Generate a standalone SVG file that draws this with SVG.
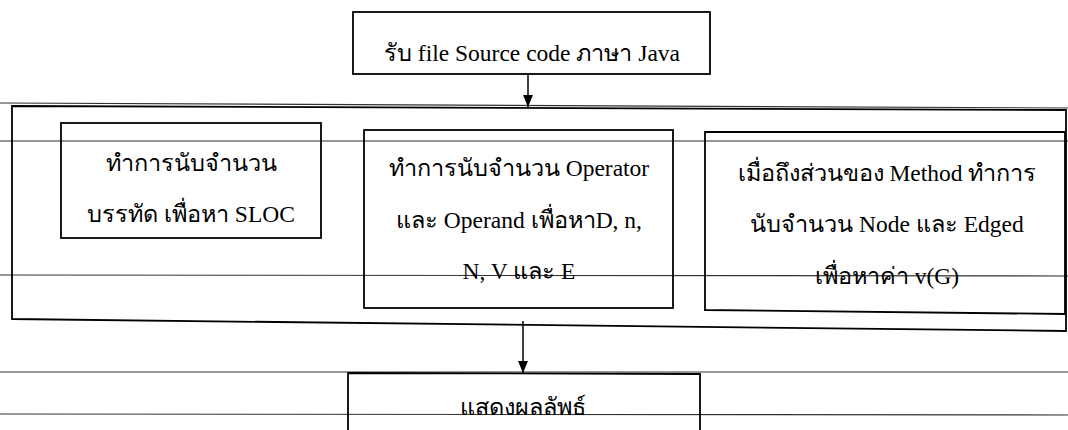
<svg xmlns="http://www.w3.org/2000/svg" width="1068" height="430" viewBox="0 0 1068 430">
<style>
.box{fill:none;stroke:#000;stroke-width:1.8}
.rule{stroke:#333;stroke-width:1.2}
.t{font-family:"Liberation Serif","DejaVu Serif","Noto Serif",serif;font-size:23.5px;fill:#000;text-anchor:middle}
.c{stroke:#000;stroke-width:1.5;fill:none}
</style>
<defs>
<marker id="ah" markerWidth="12" markerHeight="10" refX="12" refY="5" orient="auto" markerUnits="userSpaceOnUse" viewBox="0 0 12 10">
<path d="M0,0 L12,5 L0,10 Z" fill="#000"/>
</marker>
</defs>
<rect width="1068" height="430" fill="#fff"/>
<g id="rules">
<line class="rule" x1="0" y1="103" x2="1068" y2="108"/>
<line class="rule" x1="0" y1="141" x2="1068" y2="141"/>
<line class="rule" x1="0" y1="275" x2="1068" y2="276"/>
<line class="rule" x1="0" y1="372" x2="1068" y2="372"/>
<line class="rule" x1="0" y1="414" x2="1068" y2="415"/>
</g>
<g id="container">
<path class="box" d="M12,106 L1066,110 L1066,331 L12,319 Z"/>
</g>
<g id="n1">
<rect class="box" x="353" y="12" width="357" height="62"/>
<text class="t" x="532" y="61">รับ file Source code ภาษา Java</text>
</g>
<g id="n2">
<rect class="box" x="61" y="123" width="260" height="115"/>
<text class="t" x="191" y="171">ทำการนับจำนวน</text>
<text class="t" x="191" y="222">บรรทัด เพื่อหา SLOC</text>
</g>
<g id="n3">
<rect class="box" x="364" y="130" width="309" height="178"/>
<text class="t" x="519" y="176">ทำการนับจำนวน Operator</text>
<text class="t" x="519" y="228">และ Operand เพื่อหาD, n,</text>
<text class="t" x="519" y="279">N, V และ E</text>
</g>
<g id="n4">
<path class="box" d="M705,132 L1065,132 L1065,314 L705,310 Z"/>
<text class="t" x="887" y="181">เมื่อถึงส่วนของ Method ทำการ</text>
<text class="t" x="887" y="232">นับจำนวน Node และ Edged</text>
<text class="t" x="887" y="284">เพื่อหาค่า v(G)</text>
</g>
<g id="n5">
<path class="box" d="M348,430 L348,373 L700,374 L700,430"/>
<text class="t" x="523" y="415">แสดงผลลัพธ์</text>
</g>
<g id="connectors">
<line class="c" x1="528" y1="74" x2="528" y2="107" marker-end="url(#ah)"/>
<line class="c" x1="523" y1="321" x2="523" y2="373" marker-end="url(#ah)"/>
</g>
</svg>
